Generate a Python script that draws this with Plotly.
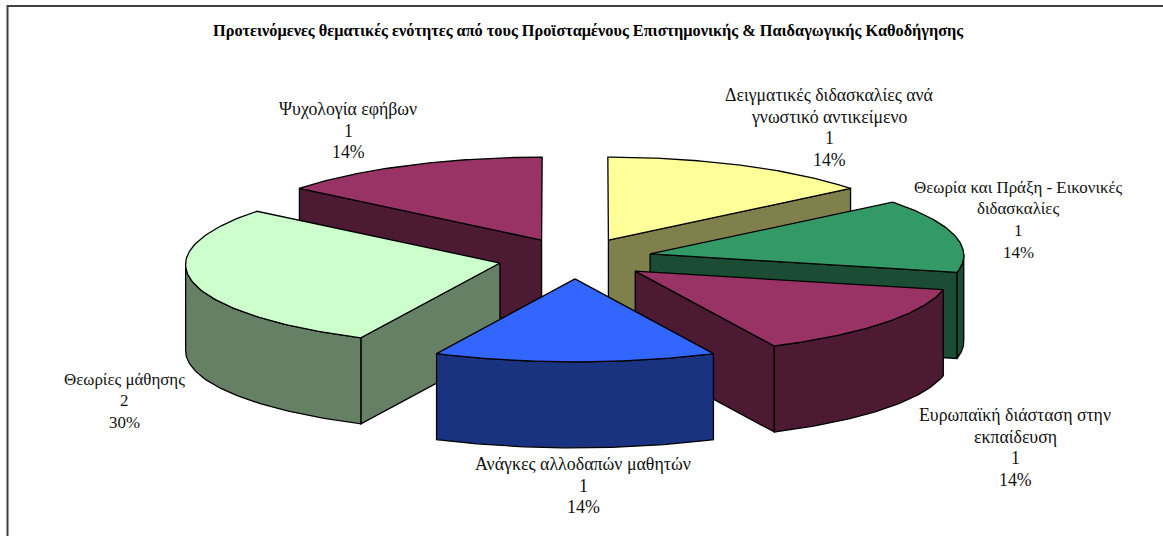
import numpy as np
import plotly.graph_objects as go

title = "Προτεινόμενες θεματικές ενότητες από τους Προϊσταμένους Επιστημονικής & Παιδαγωγικής Καθοδήγησης"
categories = ["Δειγματικές διδασκαλίες ανά<br>γνωστικό αντικείμενο",
              "Θεωρία και Πράξη - Εικονικές<br>διδασκαλίες",
              "Ευρωπαϊκή διάσταση στην<br>εκπαίδευση",
              "Ανάγκες αλλοδαπών μαθητών",
              "Θεωρίες μάθησης",
              "Ψυχολογία εφήβων"]
values = [1, 1, 1, 1, 2, 1]
percents = ["14%", "14%", "14%", "14%", "30%", "14%"]
top_colors = ["#FFFF99", "#339966", "#993366", "#3366FF", "#CCFFCC", "#993366"]
side_colors = ["#80804D", "#1A4D33", "#4D1A33", "#1A3380", "#668066", "#4D1A33"]

# label centre x, first-line y and font size (layout of the text, px)
label_x = [829, 1018, 1015, 583, 124, 348]
label_y = [95, 187, 415, 464, 379, 109]
label_size = [17.8, 16.9, 17.8, 17.9, 16.9, 17.8]
LINE = 21.7

# pie projection settings
W, H = 1163, 536
CX, CY = 575, 258.5
RX, K = 314, 0.2643
EXPLODE = 77
DEPTH = 86
PERSP = 0.00017

def project(a, cx, cy, r=RX):
    x = cx + r * np.sin(a)
    y = cy - K * r * np.cos(a)
    return CX + (x - CX) * (1 + PERSP * (y - CY)), y

edges = np.radians(np.concatenate([[0], np.cumsum(values)]) / sum(values) * 360)
fig = go.Figure()

def poly(xs, ys, fill):
    fig.add_trace(go.Scatter(x=list(xs) + [xs[0]], y=list(ys) + [ys[0]], mode="lines",
                             fill="toself", fillcolor=fill, hoverinfo="skip",
                             line=dict(color="black", width=1.3), showlegend=False))

slices = []
for i in range(len(values)):
    a0, a1 = edges[i], edges[i + 1]
    mid = (a0 + a1) / 2
    tx, ty = CX + EXPLODE * np.sin(mid), CY - K * EXPLODE * np.cos(mid)
    slices.append((i, a0, a1, tx, ty))

# painter's order: back to front
for i, a0, a1, tx, ty in [slices[j] for j in (5, 0, 1, 4, 2, 3)]:
    side = side_colors[i]
    for a, visible in ((a0, a0 >= np.pi - 1e-9), (a1, a1 <= np.pi + 1e-9)):
        if visible:
            ex, ey = project(a, tx, ty)
            poly([tx, ex, ex, tx], [ty, ey, ey + DEPTH, ty + DEPTH], side)
    lo, hi = max(a0, np.pi / 2), min(a1, 1.5 * np.pi)
    if hi > lo:
        arc = np.linspace(lo, hi, 60)
        ax, ay = project(arc, tx, ty)
        poly(np.r_[ax, ax[::-1]], np.r_[ay, ay[::-1] + DEPTH], side)
    arc = np.linspace(a0, a1, 80)
    ax, ay = project(arc, tx, ty)
    poly(np.r_[tx, ax], np.r_[ty, ay], top_colors[i])

annotations = [dict(x=588.5, y=30, text=f"<b>{title}</b>", showarrow=False,
                    font=dict(family="Liberation Serif", size=16.3, color="black"))]
for cat, val, pct, lx, ly, ls in zip(categories, values, percents, label_x, label_y, label_size):
    for j, line in enumerate(cat.split("<br>") + [str(val), pct]):
        annotations.append(dict(x=lx, y=ly + j * LINE, text=line, showarrow=False,
                                font=dict(family="Liberation Serif", size=ls, color="#111111")))

fig.update_layout(
    width=W, height=H, margin=dict(l=0, r=0, t=0, b=0),
    paper_bgcolor="white", plot_bgcolor="white", showlegend=False,
    xaxis=dict(range=[0, W], visible=False, fixedrange=True),
    yaxis=dict(range=[H, 0], visible=False, fixedrange=True),
    annotations=annotations,
    shapes=[dict(type="rect", x0=7.5, y0=6, x1=W + 5, y1=H + 5,
                 line=dict(color="#404040", width=2), layer="below")],
)
fig.write_html("out.html", config={"displayModeBar": False},
               post_script="document.body.style.margin='0';")
